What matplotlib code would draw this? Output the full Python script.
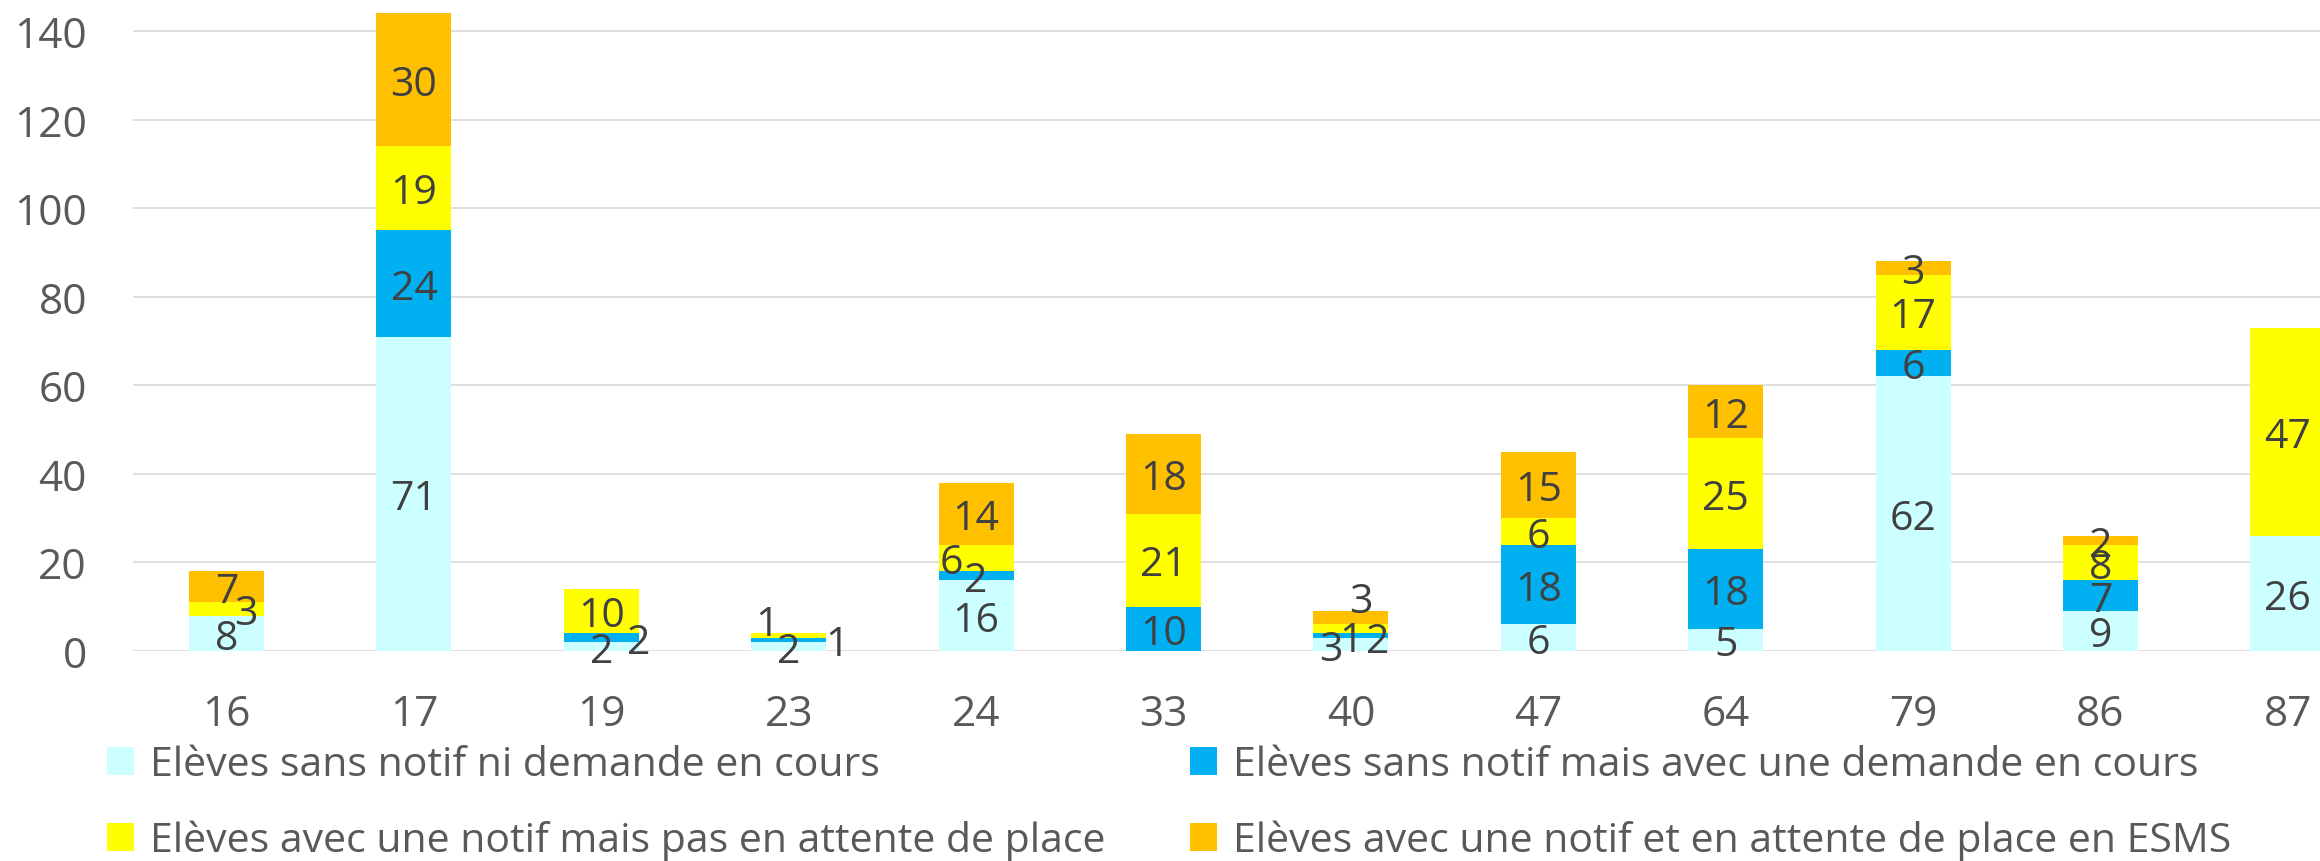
import matplotlib
matplotlib.use("Agg")
import matplotlib.pyplot as plt
import numpy as np

# ----------------------------
# Data
# ----------------------------
categories = ["16", "17", "19", "23", "24", "33", "40", "47", "64", "79", "86", "87"]

sans_notif_ni_demande = [8, 71, 2, 2, 16, 0, 3, 6, 5, 62, 9, 26]
sans_notif_avec_demande = [0, 24, 2, 1, 2, 10, 1, 18, 18, 6, 7, 0]
notif_pas_attente = [3, 19, 10, 1, 6, 21, 2, 6, 25, 17, 8, 47]
notif_attente_esms = [7, 30, 0, 0, 14, 18, 3, 15, 12, 3, 2, 0]

series_names = [
    "Elèves sans notif ni demande en cours",
    "Elèves sans notif mais avec une demande en cours",
    "Elèves avec une notif mais pas en attente de place",
    "Elèves avec une notif et en attente de place en ESMS",
]
colors = ["#CCFFFF", "#00B0F0", "#FFFF00", "#FFC000"]

# label nudges (pixels) where the labels of tiny segments were moved apart
nudge = {
    (2, 0): (19, 0),
    (1, 2): (37, 0),
    (2, 3): (-22, 16),
    (1, 3): (48, 0),
    (2, 4): (-25, 0),
    (3, 6): (10, 21),
    (0, 6): (-20, 0),
    (2, 6): (27, -8),
}

plt.rcParams["font.family"] = ["Open Sans", "DejaVu Sans"]

W, H = 2320, 862
fig = plt.figure(figsize=(W / 100, H / 100), dpi=100)
ax = fig.add_axes([132.8 / W, 210 / H, 2248.8 / W, 637.7 / H])

x = np.arange(len(categories))
series = [sans_notif_ni_demande, sans_notif_avec_demande, notif_pas_attente, notif_attente_esms]
bottom = np.zeros(len(categories))
handles = []
for s, (vals, col, name) in enumerate(zip(series, colors, series_names)):
    vals = np.array(vals, dtype=float)
    b = ax.bar(x, vals, 0.4, bottom=bottom, color=col, label=name, zorder=2, clip_on=False)
    handles.append(b)
    for i, v in enumerate(vals):
        if v <= 0:
            continue
        dx, dy = nudge.get((s, i), (0, 0))
        ax.annotate(str(int(v)), (i, bottom[i] + v / 2), xytext=(dx * 0.72, dy * 0.72),
                    textcoords="offset points", ha="center", va="center_baseline",
                    fontsize=29.5, color="#404040", zorder=3)
    bottom += vals

ax.set_xlim(-0.5, 11.5)
ax.set_ylim(0, 144)
ax.set_yticks(range(0, 141, 20))
ax.set_xticks(x)
ax.set_xticklabels(categories)
ax.grid(axis="y", color="#D9D9D9", linewidth=1.2, zorder=0)
ax.set_axisbelow(True)
for sp in ax.spines.values():
    sp.set_visible(False)
ax.tick_params(axis="both", length=0, labelsize=30.5, labelcolor="#595959")
ax.tick_params(axis="y", pad=33)
ax.tick_params(axis="x", pad=30)

# legend, two columns placed separately
leg_kw = dict(frameon=False, fontsize=29.5, labelcolor="#595959", handlelength=0.67,
              handleheight=0.67, handletextpad=0.37, labelspacing=0.85,
              borderpad=0, borderaxespad=0, loc="center left")
fig.legend([handles[0], handles[2]], [series_names[0], series_names[2]],
           bbox_to_anchor=(107 / W, (H - 804) / H), **leg_kw)
fig.legend([handles[1], handles[3]], [series_names[1], series_names[3]],
           bbox_to_anchor=(1190 / W, (H - 804) / H), **leg_kw)

fig.savefig("out.png", dpi=100, facecolor="white")
